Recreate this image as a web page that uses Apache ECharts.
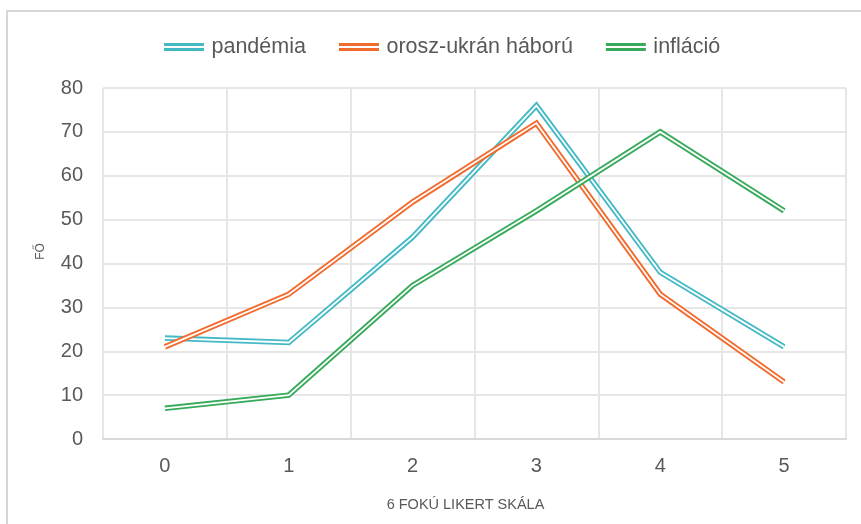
<!DOCTYPE html>
<html>
<head>
<meta charset="utf-8">
<script src="https://cdn.jsdelivr.net/npm/echarts@6/dist/echarts.min.js"></script>
<style>
html, body { margin: 0; padding: 0; background: #fff; }
#wrap { position: relative; width: 861px; height: 524px; overflow: hidden; }
#chart { width: 861px; height: 524px; }
#frame { position: absolute; left: 6px; top: 10px; width: 900px; height: 600px;
         border-left: 2px solid #d6d6d6; border-top: 2px solid #d6d6d6; pointer-events: none; }
</style>
</head>
<body>
<div id="wrap">
<div id="chart"></div>
<div id="frame"></div>
</div>
<script>
var categories = ['0', '1', '2', '3', '4', '5'];
var pandemia = [23, 22, 46, 76, 38, 21];
var haboru = [21, 33, 54, 72, 33, 13];
var inflacio = [7, 10, 35, 52, 70, 52];

var colors = ['#43b9c6', '#f26b2e', '#37ab5b'];
var names = ['pandémia', 'orosz-ukrán háború', 'infláció'];
var datas = [pandemia, haboru, inflacio];

// double line look: wide coloured line with a thin white line on top
var series = [];
for (var i = 0; i < names.length; i++) {
    series.push({
        name: names[i],
        type: 'line',
        data: datas[i],
        symbol: 'none',
        lineStyle: { color: colors[i], width: 5.5, cap: 'butt', join: 'miter' },
        itemStyle: { color: colors[i] }
    });
    series.push({
        name: '_inner' + i,
        type: 'line',
        data: datas[i],
        symbol: 'none',
        silent: true,
        lineStyle: { color: '#ffffff', width: 1.8, cap: 'butt', join: 'miter' }
    });
}

var myChart = echarts.init(document.getElementById('chart'));
myChart.setOption({
    animation: false,
    textStyle: { fontFamily: 'Liberation Sans, Arial, sans-serif', color: '#595959' },
    legend: {
        data: names,
        top: 31,
        left: 159,
        itemWidth: 45,
        itemHeight: 8,
        itemGap: 33,
        icon: 'path://M0,0H40V3H0Z M0,5H40V8H0Z',
        textStyle: { fontSize: 21.5, color: '#595959', padding: [0, 0, 0, 0] }
    },
    grid: { left: 103, right: 15, top: 88, bottom: 85 },
    xAxis: {
        type: 'category',
        data: categories,
        boundaryGap: true,
        name: '6 FOKÚ LIKERT SKÁLA',
        nameLocation: 'middle',
        nameGap: 58,
        nameTextStyle: { fontSize: 14.5, color: '#595959', padding: [0, 18, 0, 0] },
        axisLine: { lineStyle: { color: '#d9d9d9', width: 2 } },
        axisTick: { show: false },
        axisLabel: { fontSize: 20, color: '#595959', margin: 17 },
        splitLine: { show: true, lineStyle: { color: '#e6e6e6', width: 2 } }
    },
    yAxis: {
        type: 'value',
        min: 0,
        max: 80,
        interval: 10,
        name: 'FŐ',
        nameLocation: 'middle',
        nameGap: 56,
        nameTextStyle: { fontSize: 12, color: '#595959', padding: [0, 0, 0, 24] },
        axisLine: { show: false },
        axisTick: { show: false },
        axisLabel: { fontSize: 20, color: '#595959', margin: 20 },
        splitLine: { lineStyle: { color: '#e6e6e6', width: 2 } }
    },
    series: series
});
</script>
</body>
</html>
